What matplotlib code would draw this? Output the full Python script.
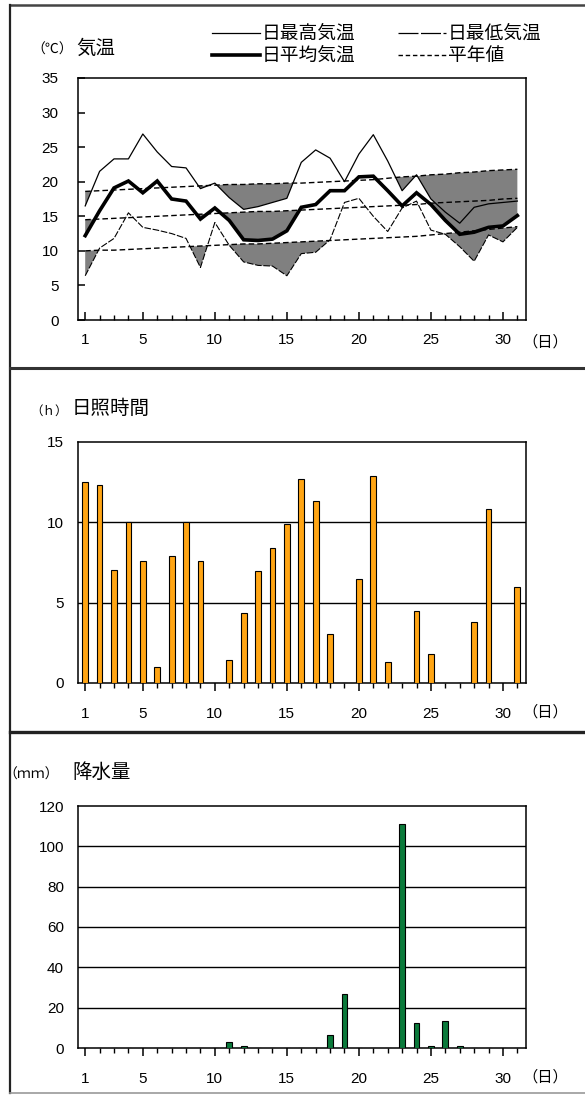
import matplotlib
matplotlib.use('Agg')
import matplotlib.pyplot as plt
from matplotlib.lines import Line2D
from matplotlib.ticker import FixedLocator, NullFormatter

# ---------------- data ----------------
days = list(range(1, 32))
x_label_days = [1, 5, 10, 15, 20, 25, 30]

temp_max = [16.5, 21.5, 23.3, 23.3, 26.9, 24.3, 22.2, 22.0, 19.0, 19.8, 17.7,
            16.0, 16.4, 17.0, 17.6, 22.8, 24.6, 23.4, 20.0, 24.0, 26.8, 23.0,
            18.7, 21.0, 17.5, 15.6, 14.0, 16.3, 16.8, 17.0, 17.2]
temp_mean = [12.2, 15.8, 19.1, 20.1, 18.4, 20.1, 17.5, 17.2, 14.6, 16.2, 14.4,
             11.6, 11.5, 11.7, 12.9, 16.3, 16.7, 18.7, 18.7, 20.7, 20.8, 18.7,
             16.5, 18.4, 16.7, 14.4, 12.4, 12.7, 13.4, 13.6, 15.1]
temp_min = [6.4, 10.4, 11.8, 15.5, 13.4, 13.0, 12.5, 11.8, 7.6, 14.1, 10.8,
            8.4, 7.9, 7.8, 6.4, 9.6, 9.8, 11.6, 17.0, 17.6, 15.0, 12.8,
            16.2, 17.2, 13.0, 12.4, 10.6, 8.5, 12.3, 11.3, 13.4]

normal_max = [18.6, 18.7, 18.8, 18.9, 19.0, 19.1, 19.2, 19.3, 19.4, 19.5, 19.6,
              19.6, 19.7, 19.7, 19.8, 19.8, 19.9, 20.0, 20.1, 20.2, 20.3, 20.5,
              20.7, 20.8, 21.0, 21.1, 21.3, 21.4, 21.6, 21.7, 21.8]
normal_mean = [14.5, 14.6, 14.7, 14.8, 14.9, 15.0, 15.1, 15.2, 15.3, 15.4, 15.5,
               15.6, 15.7, 15.7, 15.8, 15.9, 16.0, 16.1, 16.2, 16.3, 16.4, 16.5,
               16.6, 16.7, 16.9, 17.0, 17.1, 17.2, 17.3, 17.5, 17.6]
normal_min = [10.0, 10.1, 10.1, 10.2, 10.3, 10.4, 10.5, 10.6, 10.7, 10.8, 10.9,
              11.0, 11.0, 11.1, 11.2, 11.3, 11.4, 11.5, 11.6, 11.7, 11.8, 11.9,
              12.0, 12.1, 12.3, 12.5, 12.7, 12.9, 13.1, 13.3, 13.5]

sunshine = [12.5, 12.3, 7.05, 10.0, 7.6, 1.0, 7.9, 10.0, 7.6, 0.0, 1.45,
            4.35, 6.95, 8.4, 9.9, 12.7, 11.35, 3.05, 0.0, 6.5, 12.9, 1.3,
            0.0, 4.5, 1.8, 0.0, 0.0, 3.8, 10.85, 0.0, 6.0]

precip = [0, 0, 0, 0, 0, 0, 0, 0, 0, 0, 2.8,
          0.8, 0, 0, 0, 0, 0, 6.5, 26.7, 0, 0, 0,
          111.0, 12.3, 0.8, 13.4, 0.8, 0, 0, 0, 0]

temp_yticks = [0, 5, 10, 15, 20, 25, 30, 35]
sun_yticks = [0, 5, 10, 15]
rain_yticks = [0, 20, 40, 60, 80, 100, 120]

# ---------------- layout ----------------
W, H = 585, 1095
fig = plt.figure(figsize=(W / 100, H / 100), dpi=100)
fig.patch.set_facecolor('white')

NUM = ['Liberation Sans', 'Noto Sans CJK JP']
JP = ['Noto Sans CJK JP', 'DejaVu Sans']
plt.rcParams['font.family'] = NUM


def fx(x):
    return x / W


def fy(y):
    return 1 - y / H


AX_L, AX_R = 78, 526
SHADE = '#808080'
TICK_FS = 11


def make_axes(top, bottom):
    ax = fig.add_axes([fx(AX_L), fy(bottom), (AX_R - AX_L) / W, (bottom - top) / H])
    for s in ax.spines.values():
        s.set_linewidth(1.1)
        s.set_color('black')
    ax.set_xlim(0.5, 31.6)
    ax.xaxis.set_major_locator(FixedLocator(x_label_days))
    ax.xaxis.set_minor_locator(FixedLocator(days))
    ax.xaxis.set_minor_formatter(NullFormatter())
    ax.set_xticklabels([str(d) for d in x_label_days])
    return ax


def frame_line(x0, y0, x1, y1, lw=2.0, color='#333333'):
    fig.add_artist(Line2D([fx(x0), fx(x1)], [fy(y0), fy(y1)],
                          transform=fig.transFigure, color=color, lw=lw))


# panel frames
frame_line(10, 5, 585, 5, lw=1.8, color='#444444')
frame_line(10, 5, 10, 1093, lw=1.6, color='#222222')
frame_line(10, 368, 585, 368, lw=2.2, color='#333333')
frame_line(10, 732, 585, 732, lw=2.4, color='#222222')
frame_line(10, 1093, 585, 1093, lw=1.2, color='#999999')

# ---------------- panel 1: temperature ----------------
ax1 = make_axes(78, 320)
ax1.set_ylim(0, 35)
ax1.set_yticks(temp_yticks)
ax1.tick_params(axis='x', which='major', direction='in', length=6, width=1.1,
                pad=9, labelsize=TICK_FS)
ax1.tick_params(axis='x', which='minor', direction='in', length=3.5, width=1.0)
ax1.tick_params(axis='y', direction='in', length=5, width=1.1, pad=14, labelsize=TICK_FS)

for obs, norm in [(temp_max, normal_max), (temp_mean, normal_mean), (temp_min, normal_min)]:
    ax1.fill_between(days, obs, norm, where=[o < n for o, n in zip(obs, norm)],
                     interpolate=True, color=SHADE, linewidth=0, zorder=1)

for norm in [normal_max, normal_mean, normal_min]:
    ax1.plot(days, norm, color='black', lw=1.0, dashes=(4, 2.2), zorder=3)
ax1.plot(days, temp_max, color='black', lw=0.9, zorder=4)
ax1.plot(days, temp_min, color='black', lw=0.8, dashes=(6, 1.5), zorder=4)
ax1.plot(days, temp_mean, color='black', lw=2.6, zorder=5, solid_joinstyle='miter')

fig.text(fx(31), fy(50), '（℃）', fontsize=10, family=JP, va='center', ha='left')
fig.text(fx(76), fy(48), '気温', fontsize=14, family=JP, va='center', ha='left')
fig.text(fx(545), fy(342), '（日）', fontsize=11, family=JP, va='center', ha='center')

# legend
leg_rows = [
    (33, [('solid', 0.9, '日最高気温', 212), ('longdash', 0.9, '日最低気温', 398)]),
    (55, [('solid', 2.6, '日平均気温', 212), ('shortdash', 1.0, '平年値', 398)]),
]
for yrow, entries in leg_rows:
    for style, lw, label, x0 in entries:
        kw = {}
        if style == 'longdash':
            kw['dashes'] = (16, 2)
        elif style == 'shortdash':
            kw['dashes'] = (3.2, 2)
        fig.add_artist(Line2D([fx(x0), fx(x0 + 48)], [fy(yrow), fy(yrow)],
                              transform=fig.transFigure, color='black', lw=lw, **kw))
        fig.text(fx(x0 + 50), fy(yrow), label, fontsize=13.5, family=JP,
                 va='center', ha='left')

# ---------------- panel 2: sunshine ----------------
ax2 = make_axes(442, 683)
ax2.set_ylim(0, 15)
ax2.set_yticks(sun_yticks)
ax2.tick_params(axis='x', which='major', direction='out', length=6, width=1.1,
                pad=11, labelsize=TICK_FS)
ax2.tick_params(axis='x', which='minor', direction='out', length=3.5, width=1.0)
ax2.tick_params(axis='y', length=0, pad=10, labelsize=TICK_FS)
for v in sun_yticks[1:-1]:
    ax2.axhline(v, color='black', lw=1.0, zorder=1)
ax2.bar(days, sunshine, width=0.4, color='#FFA514', edgecolor='black',
        linewidth=0.8, zorder=3)

fig.text(fx(30), fy(411), '（ｈ）', fontsize=9, family=JP, va='center', ha='left')
fig.text(fx(72), fy(408), '日照時間', fontsize=14, family=JP, va='center', ha='left')
fig.text(fx(545), fy(712), '（日）', fontsize=11, family=JP, va='center', ha='center')

# ---------------- panel 3: precipitation ----------------
ax3 = make_axes(806, 1048)
ax3.set_ylim(0, 120)
ax3.set_yticks(rain_yticks)
ax3.tick_params(axis='x', which='major', direction='out', length=6, width=1.1,
                pad=11, labelsize=TICK_FS)
ax3.tick_params(axis='x', which='minor', direction='out', length=3.5, width=1.0)
ax3.tick_params(axis='y', length=0, pad=10, labelsize=TICK_FS)
for v in rain_yticks[1:-1]:
    ax3.axhline(v, color='black', lw=1.0, zorder=1)
ax3.bar(days, precip, width=0.4, color='#0B7A3B', edgecolor='black',
        linewidth=0.8, zorder=3)

fig.text(fx(3), fy(775), '（ｍｍ）', fontsize=10, family=JP, va='center', ha='left')
fig.text(fx(72), fy(772), '降水量', fontsize=14, family=JP, va='center', ha='left')
fig.text(fx(545), fy(1077), '（日）', fontsize=11, family=JP, va='center', ha='center')

fig.savefig('out.png', dpi=100)
